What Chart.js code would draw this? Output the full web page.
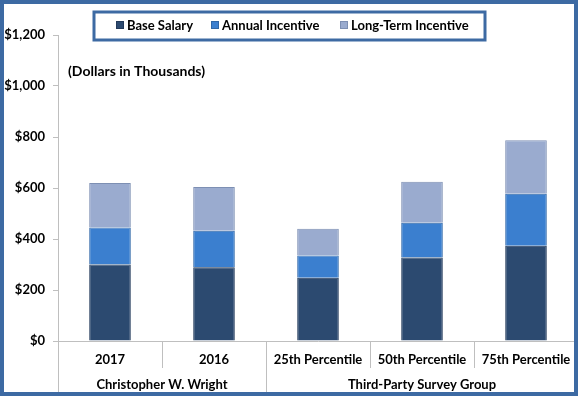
<!DOCTYPE html>
<html>
<head>
<meta charset="utf-8">
<script src="https://cdn.jsdelivr.net/npm/chart.js@4"></script>
<style>
  html, body { margin: 0; padding: 0; background: #fff; }
  #wrap { width: 578px; height: 396px; }
</style>
</head>
<body>
<div id="wrap"><canvas id="payChart" width="578" height="396"></canvas></div>
<script>
const categories = ['2017', '2016', '25th Percentile', '50th Percentile', '75th Percentile']
const baseSalary = [300, 289, 248, 327, 374]
const annualIncentive = [145, 143, 87, 137, 203]
const longTermIncentive = [175, 172, 105, 161, 210]
const groupNames = ['Christopher W. Wright', 'Third-Party Survey Group']
const groupStarts = [0, 2]
const groupEnds = [1, 4]
const yTicks = [0, 200, 400, 600, 800, 1000, 1200]

const FONT = 'Lato, "Open Sans", sans-serif'
const BORDER_BLUE = '#3d6aa3'

// legend box, unit note, two-level x labels and the frame
const decorPlugin = {
    id: 'decor',
    afterDraw(chart) {
        const ctx = chart.ctx
        const x = chart.scales.x
        const area = chart.chartArea
        const step = x.getPixelForValue(1) - x.getPixelForValue(0)
        ctx.save()

        // separators below the axis
        ctx.strokeStyle = '#bfbfbf'
        ctx.lineWidth = 1
        for (let i = 0; i <= categories.length; i++) {
            let px = Math.round(x.getPixelForValue(i) - step / 2) + 0.5
            let isGroupEdge = groupStarts.includes(i) || i == categories.length
            ctx.beginPath()
            ctx.moveTo(px, area.bottom)
            ctx.lineTo(px, isGroupEdge ? chart.height : area.bottom + 27)
            ctx.stroke()
        }

        // group labels
        ctx.fillStyle = '#000'
        ctx.font = 'bold 13px ' + FONT
        ctx.textAlign = 'center'
        ctx.textBaseline = 'middle'
        groupNames.forEach((name, i) => {
            let mid = (x.getPixelForValue(groupStarts[i]) + x.getPixelForValue(groupEnds[i])) / 2
            ctx.fillText(name, mid, 385)
        })

        // unit note
        ctx.textAlign = 'left'
        ctx.font = 'bold 14px ' + FONT
        ctx.fillText('(Dollars in Thousands)', 68, 71)

        // legend
        ctx.fillStyle = '#fff'
        ctx.fillRect(94, 12, 391, 28)
        ctx.strokeStyle = BORDER_BLUE
        ctx.lineWidth = 3
        ctx.strokeRect(94, 12, 391, 28)
        const legendX = [116, 211, 340]
        ctx.font = 'bold 13px ' + FONT
        chart.data.datasets.forEach((ds, i) => {
            ctx.fillStyle = ds.backgroundColor
            ctx.fillRect(legendX[i], 21, 8, 8)
            ctx.strokeStyle = ds.borderColor
            ctx.lineWidth = 1
            ctx.strokeRect(legendX[i] + 0.5, 21.5, 7, 7)
            ctx.fillStyle = '#000'
            ctx.fillText(ds.label, legendX[i] + 11, 26)
        })

        // outer frame
        ctx.strokeStyle = BORDER_BLUE
        ctx.lineWidth = 4
        ctx.strokeRect(2, 2, chart.width - 4, chart.height - 4)
        ctx.restore()
    }
}

const data = {
    labels: categories,
    datasets: [
        {
            label: 'Base Salary',
            data: baseSalary,
            backgroundColor: '#2c4a70',
            borderColor: '#22395a',
            borderWidth: 1
        },
        {
            label: 'Annual Incentive',
            data: annualIncentive,
            backgroundColor: '#3b7fcf',
            borderColor: '#2f67a8',
            borderWidth: 1
        },
        {
            label: 'Long-Term Incentive',
            data: longTermIncentive,
            backgroundColor: '#9aabcf',
            borderColor: '#7d8fb3',
            borderWidth: 1
        }
    ]
}

const config = {
    type: 'bar',
    data: data,
    options: {
        responsive: false,
        animation: false,
        layout: { padding: { top: 35, right: 0, bottom: 0, left: 0 } },
        categoryPercentage: 1,
        barPercentage: 0.4,
        plugins: {
            legend: { display: false },
            tooltip: { enabled: false }
        },
        scales: {
            x: {
                stacked: true,
                grid: { display: false },
                border: { color: '#bfbfbf' },
                ticks: {
                    color: '#000',
                    font: { family: FONT, size: 13, weight: 'bold' },
                    maxRotation: 0,
                    padding: 3
                },
                afterFit(scale) { scale.height = 55 }
            },
            y: {
                stacked: true,
                min: 0,
                max: 1200,
                afterBuildTicks(scale) { scale.ticks = yTicks.map(v => ({ value: v })) },
                grid: { drawOnChartArea: false, tickLength: 5, color: '#bfbfbf' },
                border: { color: '#bfbfbf' },
                ticks: {
                    color: '#000',
                    font: { family: FONT, size: 13, weight: 'bold' },
                    padding: 8,
                    callback: v => '$' + v.toLocaleString('en-US')
                },
                afterFit(scale) { scale.width = 58 }
            }
        }
    },
    plugins: [decorPlugin]
}

new Chart(document.getElementById('payChart'), config)
</script>
</body>
</html>
